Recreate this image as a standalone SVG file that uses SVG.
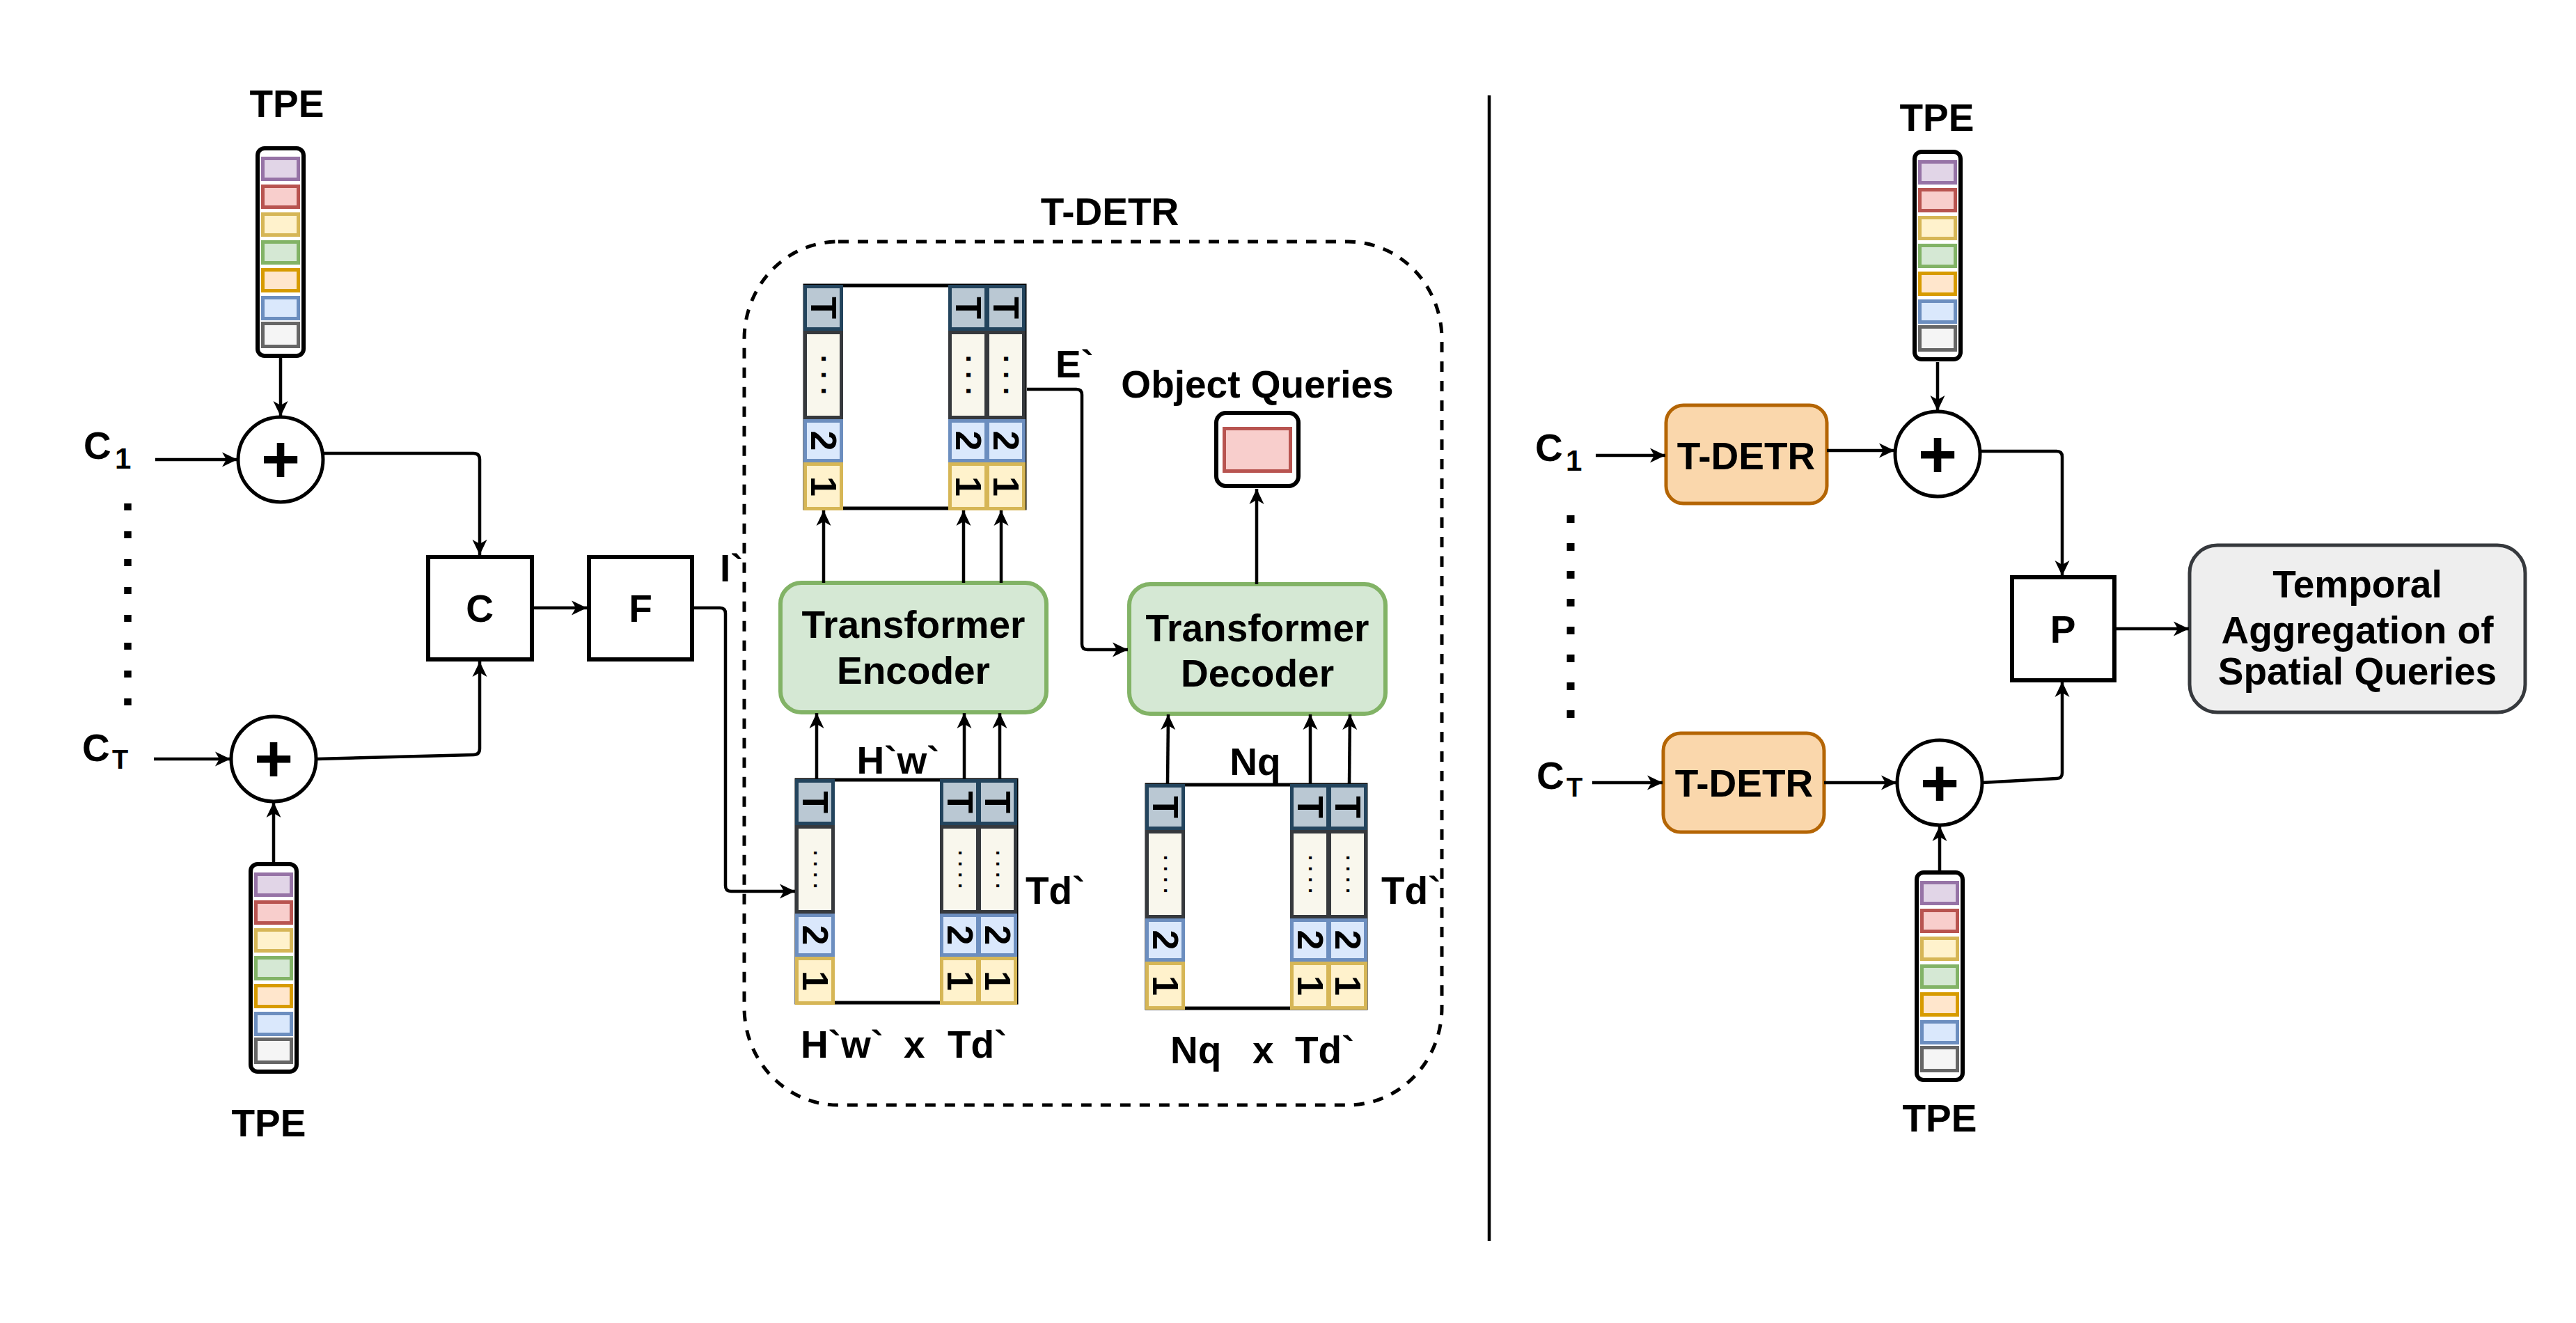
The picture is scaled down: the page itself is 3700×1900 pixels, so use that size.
<svg xmlns="http://www.w3.org/2000/svg" width="3700" height="1900" viewBox="0 0 3700 1900">
<style>
.t{font-family:"Liberation Sans",Arial,sans-serif;font-weight:bold;font-size:55px;fill:#000}
.m{text-anchor:middle}
.sub{font-size:42px}
.plus{font-size:96px;text-anchor:middle}
.cell{font-family:"Liberation Sans",Arial,sans-serif;font-weight:bold;font-size:52px;text-anchor:middle;dominant-baseline:central}
.d3{font-family:"Liberation Sans",Arial,sans-serif;font-weight:bold;font-size:40px;letter-spacing:12px;text-anchor:middle}
.d4{font-family:"Liberation Sans",Arial,sans-serif;font-weight:bold;font-size:28px;letter-spacing:8px;text-anchor:middle}
.cT{fill:#bac8d3;stroke:#23445d;stroke-width:5}
.cD{fill:#f9f7ed;stroke:#36393d;stroke-width:5}
.c2{fill:#dae8fc;stroke:#6c8ebf;stroke-width:5}
.c1{fill:#fff2cc;stroke:#d6b656;stroke-width:5}
.conn{fill:none;stroke:#000;stroke-width:4.5;stroke-linejoin:round}
.arr{marker-end:url(#ah)}
.box{fill:#fff;stroke:#000;stroke-width:6}
.green{fill:#d5e8d4;stroke:#82b366;stroke-width:6}
.orange{fill:#fad7ac;stroke:#b46504;stroke-width:5}
.circ{fill:#fff;stroke:#000;stroke-width:5}
.mat{fill:#fff;stroke:#000;stroke-width:5}
</style>
<defs>
<marker id="ah" markerUnits="userSpaceOnUse" markerWidth="24" markerHeight="24" viewBox="0 0 24 24" refX="22" refY="12" orient="auto">
<path d="M0,1.5 L22,12 L0,22.5 L6,12 Z" fill="#000"/>
</marker>
<g id="tpe">
<rect x="3" y="3" width="66" height="298" rx="10" fill="#fff" stroke="#000" stroke-width="6"/>
<rect x="10.5" y="17.5" width="51" height="30" fill="#e1d5e7" stroke="#9673a6" stroke-width="5"/>
<rect x="10.5" y="57.5" width="51" height="30" fill="#f8cecc" stroke="#b85450" stroke-width="5"/>
<rect x="10.5" y="97.5" width="51" height="30" fill="#fff2cc" stroke="#d6b656" stroke-width="5"/>
<rect x="10.5" y="137.5" width="51" height="30" fill="#d5e8d4" stroke="#82b366" stroke-width="5"/>
<rect x="10.5" y="177.5" width="51" height="30" fill="#ffe6cc" stroke="#d79b00" stroke-width="5"/>
<rect x="10.5" y="217.5" width="51" height="30" fill="#dae8fc" stroke="#6c8ebf" stroke-width="5"/>
<rect x="10.5" y="254.5" width="51" height="33" fill="#f5f5f5" stroke="#666666" stroke-width="5"/>
</g>
<g id="col">
<rect x="2.5" y="2.5" width="52" height="61" class="cT"/>
<rect x="2.5" y="68.5" width="52" height="122" class="cD"/>
<rect x="2.5" y="195.5" width="52" height="57" class="c2"/>
<rect x="2.5" y="257.5" width="52" height="64" class="c1"/>
<text class="cell" transform="translate(28.5,33) rotate(90)">T</text>
<text class="cell" transform="translate(28.5,224) rotate(90)">2</text>
<text class="cell" transform="translate(28.5,289.5) rotate(90)">1</text>
</g>
<g id="colE">
<use href="#col"/>
<text class="d3" transform="translate(28.5,129.5) rotate(90)" x="6" y="3">...</text>
</g>
<g id="colI">
<use href="#col"/>
<text class="d4" transform="translate(28.5,129.5) rotate(90)" x="4" y="2">....</text>
</g>
</defs>
<rect width="3700" height="1900" fill="#fff"/>

<!-- separator -->
<line id="separator" x1="2139" y1="137" x2="2139" y2="1782" stroke="#000" stroke-width="4.5"/>

<!-- LEFT PART -->
<g id="tpe-left-top"><use href="#tpe" x="367" y="210"/><text class="t m" x="412" y="168">TPE</text></g>
<g id="tpe-left-bottom"><use href="#tpe" x="357" y="1238"/><text class="t m" x="386" y="1632">TPE</text></g>
<g id="c1-left"><text class="t" x="120" y="659" font-size="57">C<tspan class="sub" x="165" y="673">1</tspan></text></g>
<g id="ct-left"><text class="t" x="118" y="1093" font-size="57">C<tspan font-size="38" x="161" y="1104">T</tspan></text></g>
<g id="dots-left"><line x1="183.5" y1="723" x2="183.5" y2="1020" stroke="#000" stroke-width="10.5" stroke-dasharray="10 30"/></g>
<g id="plus-left-top"><circle class="circ" cx="403" cy="660" r="61"/><text class="t plus" x="403" y="693">+</text></g>
<g id="plus-left-bottom"><circle class="circ" cx="393" cy="1090" r="61"/><text class="t plus" x="393" y="1123">+</text></g>
<g id="concat"><rect class="box" x="615" y="800" width="149" height="147"/><text class="t m" x="689" y="893">C</text></g>
<g id="fuse"><rect class="box" x="846" y="800" width="148" height="147"/><text class="t m" x="920" y="893">F</text></g>
<g id="label-i"><text class="t" x="1034" y="835">I`</text></g>

<!-- T-DETR container -->
<g id="tdetr-container">
<rect x="1069" y="347" width="1002" height="1240" rx="135" ry="140" fill="none" stroke="#000" stroke-width="5" stroke-dasharray="15 13"/>
<text class="t m" x="1594" y="323">T-DETR</text>
</g>

<g id="enc-out-matrix">
<rect class="mat" x="1156" y="410" width="316" height="320"/>
<use href="#colE" x="1154" y="409"/>
<use href="#colE" x="1362" y="409"/>
<use href="#colE" x="1416" y="409"/>
<text class="t" x="1516" y="542">E`</text>
</g>

<g id="enc-in-matrix">
<rect class="mat" x="1144" y="1120" width="316" height="320"/>
<use href="#colI" x="1142" y="1119"/>
<use href="#colI" x="1350" y="1119"/>
<use href="#colI" x="1404" y="1119"/>
<text class="t m" x="1290" y="1111">H`w`</text>
<text class="t" x="1473" y="1298">Td`</text>
<text class="t" x="1150" y="1519">H`w`</text>
<text class="t" x="1298" y="1519">x</text>
<text class="t" x="1361" y="1519">Td`</text>
</g>

<g id="dec-in-matrix">
<rect class="mat" x="1647" y="1127" width="315" height="321"/>
<use href="#colI" x="1645" y="1126"/>
<use href="#colI" x="1853" y="1126"/>
<use href="#colI" x="1907" y="1126"/>
<text class="t m" x="1803" y="1113">Nq</text>
<text class="t" x="1984" y="1298">Td`</text>
<text class="t" x="1681" y="1527">Nq</text>
<text class="t" x="1799" y="1527">x</text>
<text class="t" x="1860" y="1527">Td`</text>
</g>

<g id="encoder"><rect class="green" x="1121" y="837" width="382" height="186" rx="30"/>
<text class="t m" x="1312" y="916">Transformer</text><text class="t m" x="1312" y="982">Encoder</text></g>
<g id="decoder"><rect class="green" x="1622" y="839" width="368" height="186" rx="30"/>
<text class="t m" x="1806" y="921">Transformer</text><text class="t m" x="1806" y="986">Decoder</text></g>

<g id="object-queries">
<text class="t m" x="1806" y="571">Object Queries</text>
<rect x="1747" y="593" width="118" height="105" rx="14" fill="#fff" stroke="#000" stroke-width="6"/>
<rect x="1758.5" y="615.5" width="95" height="61" fill="#f8cecc" stroke="#b85450" stroke-width="5"/>
</g>

<!-- RIGHT PART -->
<g id="tpe-right-top"><use href="#tpe" x="2747" y="215"/><text class="t m" x="2782" y="188">TPE</text></g>
<g id="tpe-right-bottom"><use href="#tpe" x="2750" y="1250"/><text class="t m" x="2786" y="1625">TPE</text></g>
<g id="c1-right"><text class="t" x="2205" y="662" font-size="57">C<tspan class="sub" x="2249" y="676">1</tspan></text></g>
<g id="ct-right"><text class="t" x="2207" y="1133" font-size="57">C<tspan font-size="38" x="2250" y="1144">T</tspan></text></g>
<g id="dots-right"><line x1="2256" y1="740" x2="2256" y2="1035" stroke="#000" stroke-width="11" stroke-dasharray="11 29"/></g>
<g id="tdetr-1"><rect class="orange" x="2393" y="582" width="231" height="141" rx="25"/><text class="t m" x="2508" y="674">T-DETR</text></g>
<g id="tdetr-t"><rect class="orange" x="2389" y="1053" width="231" height="142" rx="25"/><text class="t m" x="2505" y="1144">T-DETR</text></g>
<g id="plus-right-top"><circle class="circ" cx="2783" cy="652" r="61"/><text class="t plus" x="2783" y="686">+</text></g>
<g id="plus-right-bottom"><circle class="circ" cx="2786" cy="1124" r="61"/><text class="t plus" x="2786" y="1158">+</text></g>
<g id="pool"><rect class="box" x="2890" y="829" width="147" height="148"/><text class="t m" x="2963" y="923">P</text></g>
<g id="temporal"><rect x="3145" y="783" width="482" height="240" rx="40" fill="#eeeeee" stroke="#36393d" stroke-width="5"/>
<text class="t m" x="3386" y="858">Temporal</text>
<text class="t m" x="3386" y="924">Aggregation of</text>
<text class="t m" x="3386" y="983">Spatial Queries</text></g>

<!-- CONNECTORS -->
<g id="connectors">
<line class="conn arr" x1="403" y1="514" x2="403" y2="598"/>
<line class="conn arr" x1="223" y1="660" x2="341" y2="660"/>
<path class="conn arr" d="M464,651 L680,651 Q689,651 689,660 L689,797"/>
<line class="conn arr" x1="221" y1="1090" x2="331" y2="1090"/>
<line class="conn arr" x1="393" y1="1238" x2="393" y2="1152"/>
<path class="conn arr" d="M455,1090 L680,1084 Q689,1084 689,1075 L689,950"/>
<line class="conn arr" x1="767" y1="873" x2="843" y2="873"/>
<path class="conn arr" d="M997,873 L1034,873 Q1042,873 1042,881 L1042,1272 Q1042,1280 1050,1280 L1142,1280"/>
<line class="conn arr" x1="1183" y1="837" x2="1183" y2="733"/>
<line class="conn arr" x1="1384" y1="837" x2="1384" y2="733"/>
<line class="conn arr" x1="1438" y1="837" x2="1438" y2="733"/>
<line class="conn arr" x1="1173" y1="1119" x2="1173" y2="1024"/>
<line class="conn arr" x1="1385" y1="1119" x2="1385" y2="1024"/>
<line class="conn arr" x1="1436" y1="1119" x2="1436" y2="1024"/>
<line class="conn arr" x1="1677" y1="1126" x2="1678" y2="1026"/>
<line class="conn arr" x1="1882" y1="1126" x2="1882" y2="1026"/>
<line class="conn arr" x1="1938" y1="1126" x2="1939" y2="1026"/>
<path class="conn arr" d="M1475,559 L1546,559 Q1554,559 1554,567 L1554,925 Q1554,933 1562,933 L1620,933"/>
<line class="conn arr" x1="1805" y1="839" x2="1805" y2="702"/>
<line class="conn arr" x1="2783" y1="520" x2="2783" y2="590"/>
<line class="conn arr" x1="2292" y1="654" x2="2392" y2="654"/>
<line class="conn arr" x1="2624" y1="647" x2="2721" y2="647"/>
<path class="conn arr" d="M2844,648 L2954,648 Q2962,648 2962,656 L2962,827"/>
<line class="conn arr" x1="2287" y1="1124" x2="2388" y2="1124"/>
<line class="conn arr" x1="2620" y1="1124" x2="2724" y2="1124"/>
<line class="conn arr" x1="2786" y1="1250" x2="2786" y2="1186"/>
<path class="conn arr" d="M2847,1124 L2954,1118 Q2962,1118 2962,1110 L2962,979"/>
<line class="conn arr" x1="3040" y1="903" x2="3144" y2="903"/>
</g>
</svg>
